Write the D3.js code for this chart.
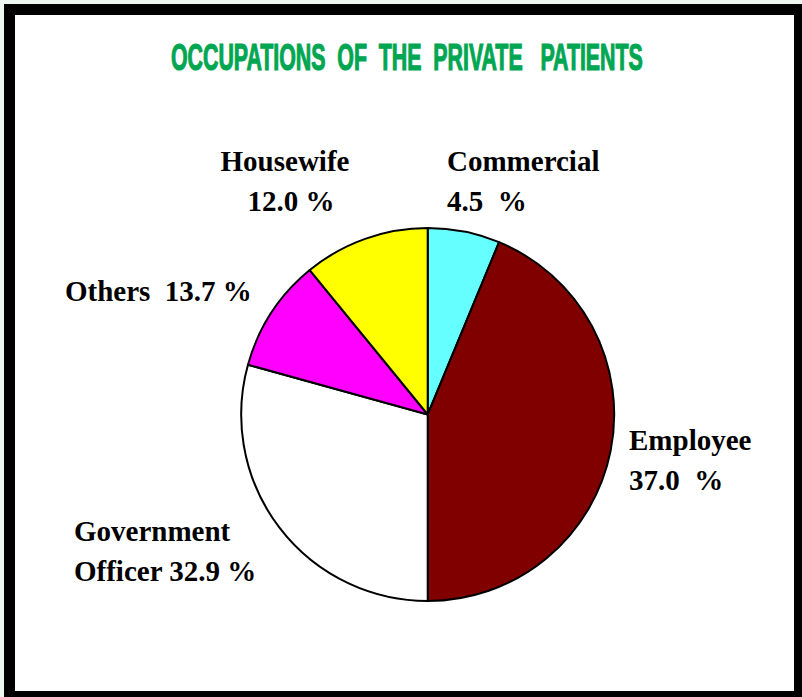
<!DOCTYPE html>
<html lang="en">
<meta charset="utf-8">
<style>
  body { margin: 0; background: #eef6f1; }
  svg { display: block; }
  .label { font-family: "Liberation Serif", "Times New Roman", serif; font-weight: bold; font-size: 29px; fill: #000; white-space: pre; }
  .title { font-family: "Liberation Sans Narrow", "Liberation Sans", sans-serif; font-weight: bold; font-size: 36px; fill: #00a651; stroke: #00a651; stroke-width: 1.2px; white-space: pre; }
</style>
<script src="https://d3js.org/d3.v7.min.js"></script>
<body>
<div id="chart"></div>
<script>
// slice order clockwise from 12 o'clock
const categories = ["Commercial", "Employee", "Government Officer", "Others", "Housewife"]
// share of the circle as drawn in the picture
const sliceValues = [6.25, 43.75, 29.3, 9.8, 10.9]
// percentages as printed on the labels
const labelLines = [
  ["Commercial", "4.5  %"],
  ["Employee", "37.0  %"],
  ["Government", "Officer 32.9 %"],
  ["Others  13.7 %"],
  ["Housewife", "12.0 %"]
]
const colors = ["#66ffff", "#800000", "#ffffff", "#ff00ff", "#ffff00"]
const titleText = "OCCUPATIONS  OF  THE  PRIVATE   PATIENTS"

const W = 802, H = 697
const CX = 427.7, CY = 414.5, R = 186.5

const svg = d3.select("#chart").append("svg")
  .attr("width", W)
  .attr("height", H)

// frame
svg.append("rect")
  .attr("x", 4).attr("y", 4)
  .attr("width", W - 4).attr("height", H - 4)
  .attr("fill", "#000")
svg.append("rect")
  .attr("x", 15).attr("y", 15)
  .attr("width", 779).attr("height", 676)
  .attr("fill", "#fff")

// title, squeezed to the width it has in the original
const title = svg.append("text")
  .attr("class", "title")
  .attr("x", 0)
  .attr("y", 0)
  .text(titleText)
const tw = title.node().getComputedTextLength()
title.attr("transform", `translate(171, 70) scale(${472 / tw}, 1)`)

const pie = d3.pie().sort(null).value(d => d)
const arc = d3.arc().innerRadius(0).outerRadius(R)

const g = svg.append("g")
  .attr("transform", `translate(${CX}, ${CY})`)

g.selectAll("path")
  .data(pie(sliceValues))
  .join("path")
  .attr("d", arc)
  .attr("fill", (d, i) => colors[i])
  .attr("stroke", "#000")
  .attr("stroke-width", 2)
  .attr("stroke-linejoin", "round")

// label placement (x, first baseline, anchor)
const labelPos = [
  { x: 447, y: 171, anchor: "start" },
  { x: 629, y: 450, anchor: "start" },
  { x: 74, y: 541, anchor: "start" },
  { x: 65, y: 301, anchor: "start" },
  { x: 285, y: 171, anchor: "middle" }
]
const lineGap = 40

categories.forEach((c, i) => {
  const p = labelPos[i]
  const t = svg.append("text")
    .attr("class", "label")
    .attr("text-anchor", p.anchor)
  labelLines[i].forEach((line, j) => {
    t.append("tspan")
      .attr("x", p.x + (p.anchor === "middle" && j > 0 ? 6 : 0))
      .attr("y", p.y + j * lineGap)
      .text(line)
  })
})
</script>
</body>
</html>
